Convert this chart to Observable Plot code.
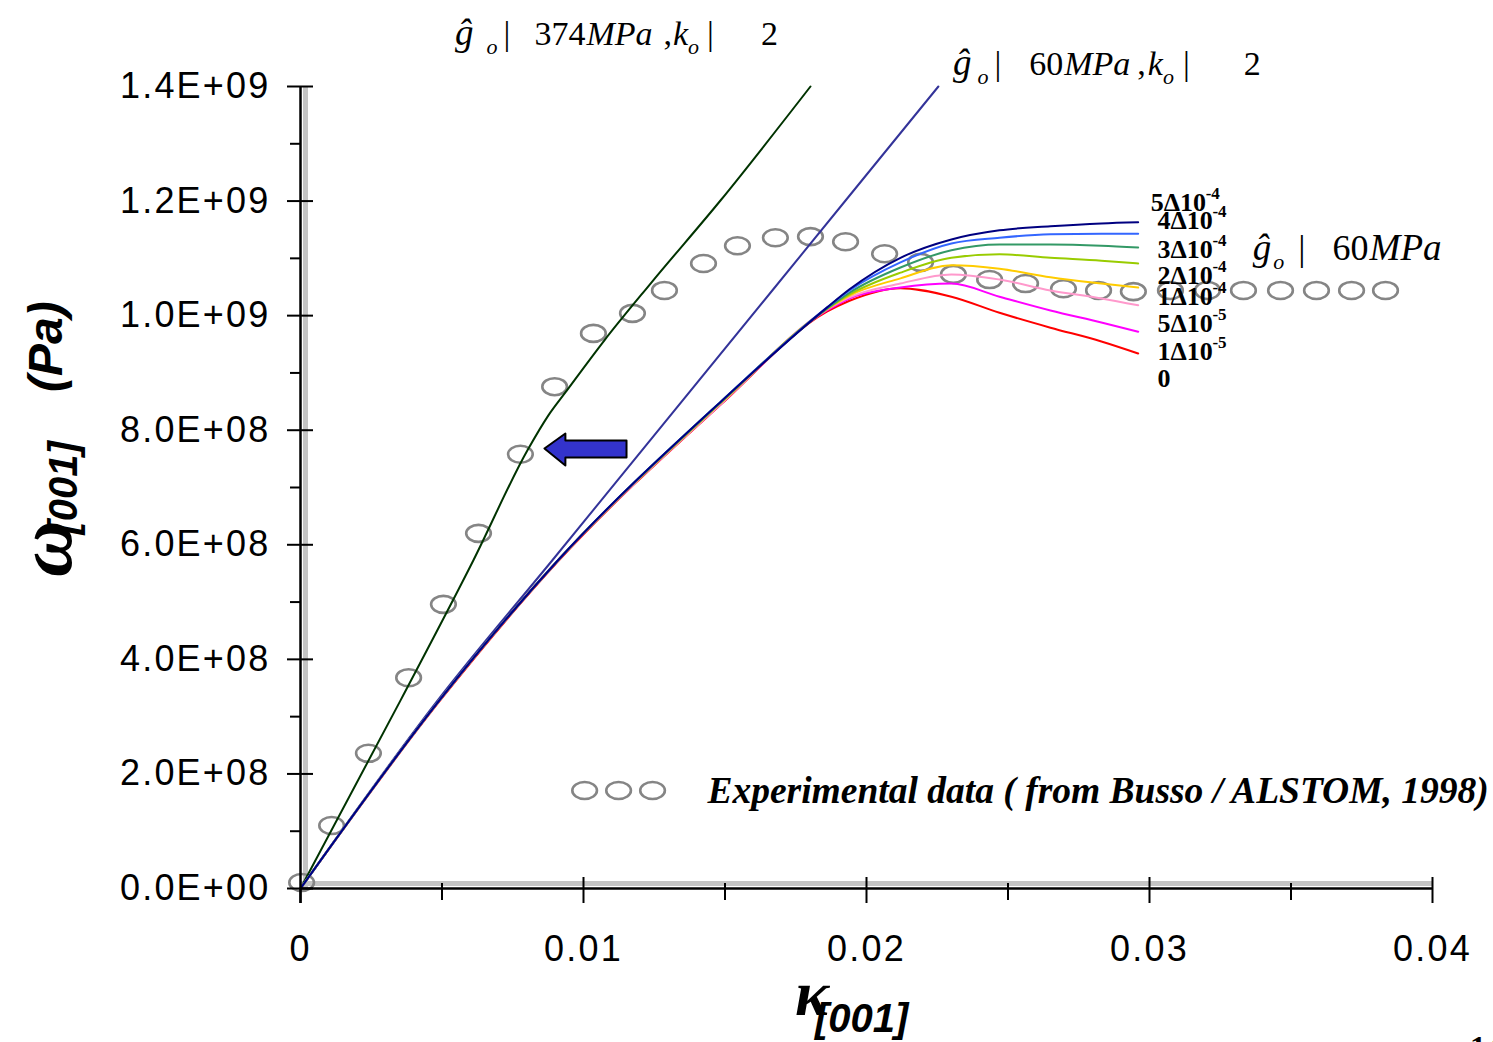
<!DOCTYPE html>
<html><head><meta charset="utf-8">
<script src="https://cdn.jsdelivr.net/npm/d3@7"></script>
<script src="https://cdn.jsdelivr.net/npm/@observablehq/plot@0.6"></script>
<style>
html,body{margin:0;padding:0;background:#fff;overflow:hidden;}
#chart{position:relative;width:1493px;height:1042px;}
</style></head><body><div id="chart"></div>
<script>
// ---------- data ----------
// family of curves, g0 = 60 MPa, different k values
const famStrain = [0, 0.0049, 0.0091, 0.0149, 0.0186, 0.0194, 0.0212, 0.0230, 0.0247, 0.0265, 0.0283, 0.0296];
const famNames  = ["5Δ10-4", "4Δ10-4", "3Δ10-4", "2Δ10-4", "1Δ10-4", "5Δ10-5", "1Δ10-5", "0"];
const famColors = ["#000080", "#3366ff", "#339966", "#99cc00", "#ffcc00", "#ff99cc", "#ff00ff", "#ff0000"];
const k5e4 = [0, 0.328e9, 0.573e9, 0.852e9, 1.014e9, 1.046e9, 1.101e9, 1.133e9, 1.149e9, 1.156e9, 1.161e9, 1.163e9];
const k4e4 = [0, 0.328e9, 0.573e9, 0.852e9, 1.014e9, 1.044e9, 1.093e9, 1.126e9, 1.136e9, 1.142e9, 1.143e9, 1.143e9];
const k3e4 = [0, 0.328e9, 0.573e9, 0.852e9, 1.012e9, 1.040e9, 1.084e9, 1.114e9, 1.124e9, 1.124e9, 1.122e9, 1.119e9];
const k2e4 = [0, 0.328e9, 0.573e9, 0.850e9, 1.012e9, 1.037e9, 1.075e9, 1.101e9, 1.107e9, 1.101e9, 1.096e9, 1.091e9];
const k1e4 = [0, 0.328e9, 0.573e9, 0.850e9, 1.011e9, 1.035e9, 1.065e9, 1.088e9, 1.082e9, 1.067e9, 1.056e9, 1.049e9];
const k5e5 = [0, 0.328e9, 0.573e9, 0.848e9, 1.011e9, 1.032e9, 1.056e9, 1.072e9, 1.063e9, 1.044e9, 1.030e9, 1.018e9];
const k1e5 = [0, 0.328e9, 0.573e9, 0.848e9, 1.009e9, 1.030e9, 1.049e9, 1.056e9, 1.033e9, 1.009e9, 0.988e9, 0.972e9];
const k0   = [0, 0.326e9, 0.571e9, 0.847e9, 1.007e9, 1.026e9, 1.048e9, 1.033e9, 1.005e9, 0.979e9, 0.955e9, 0.934e9];
const famValues = [k5e4, k4e4, k3e4, k2e4, k1e4, k5e5, k1e5, k0];

// g0 = 374 MPa, k0 = 2
const g374Strain = [0, 0.00353, 0.00611, 0.00802, 0.00876, 0.00936, 0.01074, 0.01237, 0.01484, 0.01802];
const g374Stress = [0, 0.328e9, 0.573e9, 0.765e9, 0.826e9, 0.866e9, 0.957e9, 1.056e9, 1.201e9, 1.400e9];

// g0 = 60 MPa, k0 = 2
const g60Strain = [0, 0.00484, 0.0089, 0.01926, 0.02254];
const g60Stress = [0, 0.328e9, 0.573e9, 1.201e9, 1.400e9];

// experimental data (Busso / ALSTOM, 1998)
const expStrain = [0.00004, 0.0011, 0.0024, 0.00382, 0.00505, 0.00629, 0.00777, 0.00898, 0.01035, 0.01173,
  0.01286, 0.01424, 0.01544, 0.01678, 0.01802, 0.01926, 0.02064, 0.02191, 0.02307, 0.02435, 0.02562,
  0.02696, 0.0282, 0.02943, 0.03074, 0.03205, 0.03332, 0.03463, 0.0359, 0.03714, 0.03834];
const expStress = [0.0105e9, 0.110e9, 0.236e9, 0.368e9, 0.496e9, 0.620e9, 0.758e9, 0.876e9, 0.969e9, 1.004e9,
  1.044e9, 1.091e9, 1.122e9, 1.136e9, 1.138e9, 1.129e9, 1.108e9, 1.093e9, 1.072e9, 1.063e9, 1.056e9,
  1.047e9, 1.044e9, 1.042e9, 1.044e9, 1.044e9, 1.044e9, 1.044e9, 1.044e9, 1.044e9, 1.044e9];

// ticks
const xMajor = [0, 0.01, 0.02, 0.03, 0.04];
const xMinor = [0.005, 0.015, 0.025, 0.035];
const yMajor = [0, 2e8, 4e8, 6e8, 8e8, 1e9, 1.2e9, 1.4e9];
const yMinor = [1e8, 3e8, 5e8, 7e8, 9e8, 1.1e9, 1.3e9];

// annotations (anchors in data units)
const labelBase = ["5Δ10", "4Δ10", "3Δ10", "2Δ10", "1Δ10", "5Δ10", "1Δ10", "0"];
const labelExp  = ["-4", "-4", "-4", "-4", "-4", "-5", "-5", ""];
const labelX = [0.03004, 0.03028, 0.03028, 0.03028, 0.03028, 0.03028, 0.03028, 0.03028];
const labelY = [1.1975e9, 1.1661e9, 1.1154e9, 1.0701e9, 1.0334e9, 0.9863e9, 0.9374e9, 0.8903e9];
const legendStrain = [0.01004, 0.01124, 0.01244];
const legendStress = [0.171e9, 0.171e9, 0.171e9];
const legendText = "Experimental data ( from Busso / ALSTOM, 1998)";
const arrowX = [0.00862, 0.00936, 0.00936, 0.01152, 0.01152, 0.00936, 0.00936, 0.00862];
const arrowY = [0.7681e9, 0.7942e9, 0.7820e9, 0.7820e9, 0.7524e9, 0.7524e9, 0.7384e9, 0.7681e9];

// ---------- build tables ----------
const famRows = [];
famNames.forEach((n, i) => famValues[i].forEach((v, j) => famRows.push({name: n, x: famStrain[j], y: v})));
const g374 = g374Strain.map((x, i) => ({x, y: g374Stress[i]}));
const g60 = g60Strain.map((x, i) => ({x, y: g60Stress[i]}));
const exp = expStrain.map((x, i) => ({x, y: expStress[i]}));
const legendDots = legendStrain.map((x, i) => ({x, y: legendStress[i]}));
const labels = labelBase.map((t, i) => ({t, e: labelExp[i], x: labelX[i], y: labelY[i]}));
const arrow = arrowX.map((x, i) => ({x, y: arrowY[i]}));

const ellipse = {
  draw(ctx, size) {
    const r = Math.sqrt(size / Math.PI);
    const rx = r * 1.45, ry = r, k = 0.5523;
    ctx.moveTo(rx, 0);
    ctx.bezierCurveTo(rx, ry * k, rx * k, ry, 0, ry);
    ctx.bezierCurveTo(-rx * k, ry, -rx, ry * k, -rx, 0);
    ctx.bezierCurveTo(-rx, -ry * k, -rx * k, -ry, 0, -ry);
    ctx.bezierCurveTo(rx * k, -ry, rx, -ry * k, rx, 0);
    ctx.closePath();
  }
};

const fmtE = d => {
  if (d === 0) return "0.0E+00";
  const e = Math.floor(Math.log10(d) + 1e-9);
  return (d / 10 ** e).toFixed(1) + "E+" + String(e).padStart(2, "0");
};
const fmtX = d => d === 0 ? "0" : String(d);

const W = 1493, H = 1042, mL = 300, mR = 61, mT = 86, mB = 154;
const fw = W - mL - mR, fh = H - mT - mB;
const SERIF = "Liberation Serif, Times New Roman, serif";
const SANS = "Liberation Sans, Arial, sans-serif";
const tickFont = {fontSize: 36, fontFamily: SANS};

const plot = Plot.plot({
  width: W, height: H,
  marginLeft: mL, marginRight: mR, marginTop: mT, marginBottom: mB,
  style: {background: "white", color: "black", overflow: "visible"},
  x: {domain: [0, 0.04], label: null},
  y: {domain: [0, 1.4e9], label: null},
  marks: [
    // axis shadows
    Plot.ruleX([0], {dx: 5, stroke: "#c4c4c4", strokeWidth: 5}),
    Plot.ruleY([0], {dy: -5, stroke: "#c4c4c4", strokeWidth: 5}),
    // experimental data
    Plot.dot(exp, {x: "x", y: "y", symbol: ellipse, r: 8.5, stroke: "#858585", strokeWidth: 2.6, fill: "none"}),
    Plot.dot(legendDots, {x: "x", y: "y", symbol: ellipse, r: 8.5, stroke: "#858585", strokeWidth: 2.6, fill: "none"}),
    // simulated curves
    Plot.line(g374, {x: "x", y: "y", stroke: "#003300", strokeWidth: 2, curve: "monotone-x"}),
    Plot.line(g60, {x: "x", y: "y", stroke: "#333399", strokeWidth: 2, curve: "monotone-x"}),
    ...famNames.slice().reverse().map(n => Plot.line(famRows.filter(r => r.name === n), {
      x: "x", y: "y", stroke: famColors[famNames.indexOf(n)], strokeWidth: 2, curve: "monotone-x"})),
    // arrow
    Plot.line(arrow, {x: "x", y: "y", fill: "#3333cc", stroke: "black", strokeWidth: 2, curve: "linear"}),
    // axes
    Plot.ruleX([0], {stroke: "black", strokeWidth: 2.5, insetBottom: -15}),
    Plot.ruleY([0], {stroke: "black", strokeWidth: 2.5}),
    Plot.axisY(yMajor, {label: null, tickSize: 13, tickPadding: 17, tickFormat: fmtE, strokeWidth: 2, ...tickFont}),
    Plot.ruleY(yMajor, {stroke: "black", strokeWidth: 2, insetRight: fw - 13}),
    Plot.axisY(yMinor, {label: null, tickSize: 10, tickFormat: () => "", strokeWidth: 2}),
    Plot.axisX(xMajor, {label: null, tickSize: 15, tickPadding: 32, tickFormat: fmtX, strokeWidth: 2, ...tickFont}),
    Plot.ruleX(xMajor.slice(1), {stroke: "black", strokeWidth: 2, insetTop: fh - 11}),
    Plot.axisX(xMinor, {label: null, tickSize: 12, tickFormat: () => "", strokeWidth: 2}),
    Plot.ruleX(xMinor, {stroke: "black", strokeWidth: 2, insetTop: fh - 5}),
    // curve labels
    Plot.text(labels, {x: "x", y: "y", text: "t", textAnchor: "start", fontSize: 26, fontWeight: "bold",
      fontFamily: SERIF, fill: "black"}),
    Plot.text(labels, {x: "x", y: "y", text: "e", textAnchor: "start", dx: 55, dy: -9, fontSize: 17, fontWeight: "bold",
      fontFamily: SERIF, fill: "black"}),
    // legend text
    Plot.text([legendText], {x: 0.01438, y: 0.171e9, text: d => d, textAnchor: "start", fontSize: 37.5,
      fontWeight: "bold", fontStyle: "italic", fontFamily: SERIF, fill: "black"})
  ]
});
document.getElementById("chart").appendChild(plot);

// widen tick labels like the reference
const svg = d3.select(plot);
svg.selectAll('g[aria-label="y-axis tick label"] text').attr("letter-spacing", 2.2);
svg.selectAll('g[aria-label="x-axis tick label"] text').attr("letter-spacing", 2.2);

// ---------- rich-text annotations ----------
const sx = plot.scale("x"), sy = plot.scale("y");

function rich(x, y, parts, base) {
  const t = svg.append("text").attr("x", x).attr("y", y).attr("text-anchor", "start")
    .attr("font-family", base.family).attr("font-size", base.size).attr("fill", "black");
  if (base.transform) t.attr("transform", base.transform);
  parts.forEach(p => {
    const s = t.append("tspan").text(p.t);
    if (p.italic) s.attr("font-style", "italic");
    if (p.bold) s.attr("font-weight", "bold");
    if (p.size) s.attr("font-size", p.size);
    if (p.family) s.attr("font-family", p.family);
    if (p.dx) s.attr("dx", p.dx);
    if (p.dy) s.attr("dy", p.dy);
    if (p.x !== undefined) s.attr("x", p.x);
  });
  return t;
}
// g0 = 374 MPa, k0 = 2
rich(sx.apply(0.00548), sy.apply(1.4715e9), [
  {t: "ĝ", italic: true, size: 37}, {t: "o", italic: true, size: 22, dx: 13, dy: 9}, {t: "|", dx: 6, dy: -9},
  {t: "374", dx: 24}, {t: "MPa", italic: true, dx: 1}, {t: ",", dx: 11},
  {t: "k", italic: true, dx: 1}, {t: "o", italic: true, size: 22, dy: 9},
  {t: "|", dx: 8, dy: -9}, {t: "2", dx: 47}
], {family: SERIF, size: 34});
// g0 = 60 MPa, k0 = 2
rich(sx.apply(0.02307), sy.apply(1.4192e9), [
  {t: "ĝ", italic: true, size: 37}, {t: "o", italic: true, size: 22, dx: 6, dy: 9}, {t: "|", dx: 6, dy: -9},
  {t: "60", dx: 28}, {t: "MPa", italic: true, dx: 1}, {t: ",", dx: 7},
  {t: "k", italic: true, dx: 2}, {t: "o", italic: true, size: 22, dy: 9},
  {t: "|", dx: 9, dy: -9}, {t: "2", dx: 54}
], {family: SERIF, size: 34});
// g0 = 60 MPa
rich(sx.apply(0.03367), sy.apply(1.0962e9), [
  {t: "ĝ", italic: true, size: 37}, {t: "o", italic: true, size: 22, dx: 2, dy: 9}, {t: "|", dx: 14, dy: -9},
  {t: "60", dx: 27}, {t: "MPa", italic: true, dx: 1, size: 37}
], {family: SERIF, size: 36});

// axis titles
rich(-577, 0, [
  {t: "ω", italic: true, bold: true, size: 78, family: SERIF},
  {t: "[001]", italic: true, bold: true, size: 40, dx: -14, dy: 6},
  {t: "(Pa)", italic: true, bold: true, size: 48, x: -392, dy: -15}
], {family: SANS, size: 40, transform: "translate(71,0) rotate(-90)"});
rich(795, 1015, [
  {t: "κ", italic: true, bold: true, size: 64, family: SERIF},
  {t: "[001]", italic: true, bold: true, size: 40, dx: -14, dy: 17}
], {family: SANS, size: 40});
// page number (cut by page edge)
svg.append("text").attr("x", 1470).attr("y", 1058).attr("text-anchor", "start").attr("font-family", SERIF)
  .attr("font-weight", "bold").attr("font-size", 32).text("14");
</script></body></html>
